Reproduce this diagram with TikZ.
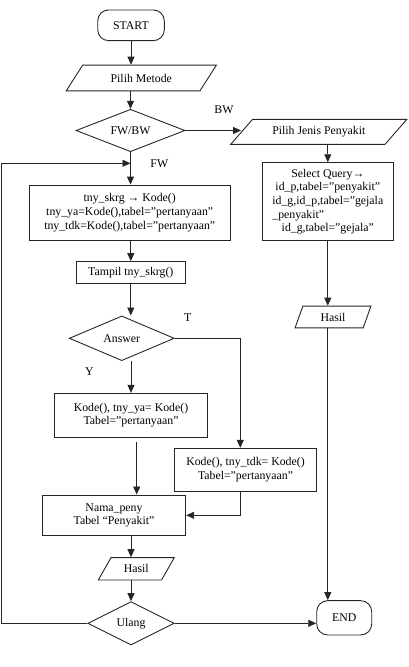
\documentclass[tikz,border=0pt]{standalone}
\usepackage{fontspec}
\setmainfont{Liberation Serif}
\usetikzlibrary{shapes.geometric,arrows.meta,positioning}
\tikzset{%
termnode/.style={rectangle, rounded corners=11pt, draw=black!85, line width=0.9pt, inner sep=0pt},
procnode/.style={rectangle, draw=black!85, line width=0.9pt, align=center, inner sep=0pt},
ionode/.style={trapezium, trapezium stretches=true, draw=black!85, line width=0.9pt, inner sep=0pt},
decnode/.style={diamond, aspect=2.5, draw=black!85, line width=0.9pt, inner sep=0pt},
pt/.style={draw=black!85, line width=0.9pt, -{Triangle[length=8pt,width=7pt]}},
lbl/.style={inner sep=0pt}
}

\begin{document}
\begin{tikzpicture}[x=1pt, y=-1pt, font=\fontsize{11.8pt}{13.7pt}\selectfont]
		\useasboundingbox (0,0) rectangle (409,667);
		% main column
		\node[termnode, minimum width=66.6pt, minimum height=30.7pt] (start) at (131,25.3) {START};
		\node[ionode, trapezium left angle=44, trapezium right angle=136, minimum width=150.7pt, minimum height=25.7pt] (metode) [below of=start, node distance=52.7pt, xshift=10.3pt] {Pilih Metode};
		\node[decnode, minimum width=109pt, minimum height=42.4pt] (fwbw) [below of=metode, node distance=52.5pt, xshift=-10.8pt] {FW/BW};
		\node[procnode, minimum width=200.7pt, minimum height=55pt] (tny) [below of=fwbw, node distance=82pt, xshift=-0.8pt] {tny\_skrg → Kode()\\tny\_ya=Kode(),tabel=”pertanyaan”\\tny\_tdk=Kode(),tabel=”pertanyaan”};
		\node[procnode, minimum width=108.3pt, minimum height=21.7pt] (tampil) [below of=tny, node distance=60pt, xshift=1.1pt] {Tampil tny\_skrg()};
		\node[decnode, minimum width=105pt, minimum height=44.7pt] (answer) [below of=tampil, node distance=65.8pt, xshift=-9pt] {Answer};
		\node[procnode, minimum width=153.4pt, minimum height=44pt] (kodeya) [below of=answer, node distance=77pt, xshift=9.2pt] {Kode(), tny\_ya= Kode()\\Tabel=”pertanyaan”};
		\node[procnode, minimum width=142.4pt, minimum height=43.4pt] (kodetdk) [right of=kodeya, node distance=114.5pt, yshift=-54.7pt] {Kode(), tny\_tdk= Kode()\\Tabel=”pertanyaan”};
		\node[procnode, minimum width=143.4pt, minimum height=40.7pt] (nama) [below of=kodeya, node distance=100pt, xshift=-17pt] {Nama\_peny\\Tabel “Penyakit”};
		\node[ionode, trapezium left angle=53, trapezium right angle=127, minimum width=76pt, minimum height=22.3pt] (hasilfw) [below of=nama, node distance=53.5pt, xshift=22.3pt] {Hasil};
		\node[decnode, minimum width=86.6pt, minimum height=43.3pt] (ulang) [below of=hasilfw, node distance=54.5pt, xshift=-5.3pt] {Ulang};
		% backward branch
		\node[ionode, trapezium left angle=35, trapezium right angle=145, minimum width=176.3pt, minimum height=25pt] (jenis) [right of=fwbw, node distance=188.3pt, yshift=-1.3pt] {Pilih Jenis Penyakit};
		\node[procnode, minimum width=131pt, minimum height=78pt] (query) [below of=jenis, node distance=69.9pt, xshift=9pt] {Select Query→\\id\_p,tabel=”penyakit”\\id\_g,id\_p,tabel=”gejala\\\rlap{\_penyakit”}\phantom{id\_g,id\_p,tabel=”gejala}\\id\_g,tabel=”gejala”};
		\node[ionode, trapezium left angle=69, trapezium right angle=111, minimum width=76pt, minimum height=21.7pt] (hasilbw) [below of=query, node distance=115.3pt, xshift=5.2pt] {Hasil};
		\node[termnode, minimum width=55pt, minimum height=34.3pt] (end) [below of=hasilbw, node distance=300.8pt, xshift=11.2pt] {END};
		
		\node[lbl] (bw) at (224,109.3) {BW};
		\node[lbl] (fw) at (159.3,164) {FW};
		\node[lbl] (tidak) at (187.7,317.3) {T};
		\node[lbl] (ya) at (89.3,371.7) {Y};
		\coordinate (back) at (1.5,163.3);
		
		\draw[pt] (start) -- (start |- metode.north);
		\draw[pt] (fwbw |- metode.south) -- (fwbw);
		\draw[pt] (fwbw) -- (fwbw -| jenis.west);
		\draw[pt] (query |- jenis.south) -- (query);
		\draw[pt] (query) -- (query |- hasilbw.north);
		\draw[pt] (query |- hasilbw.south) -- (query |- end.north);
		\draw[pt] (fwbw) -- (fwbw |- tny.north);
		\draw[pt] (tampil |- tny.south) -- (tampil);
		\draw[pt] (tampil) -- (tampil |- answer.north);
		\draw[pt] (kodeya |- answer.south) -- (kodeya);
		\draw[pt] (answer) -| ([xshift=-5.2pt]kodetdk.north);
		\draw[pt] ([xshift=5.7pt,yshift=-4pt]kodeya.south) -- ([xshift=5.7pt]kodeya.south |- nama.north);
		\draw[pt] ([xshift=-5.2pt]kodetdk.south) |- (nama);
		\draw[pt] (ulang |- nama.south) -- (ulang |- hasilfw.north);
		\draw[pt] (ulang |- hasilfw.south) -- (ulang);
		\draw[pt] (ulang) -- (ulang -| end.west);
		\draw[pt] (ulang) -| (back) -- (back -| fwbw);
	\end{tikzpicture}
\end{document}
